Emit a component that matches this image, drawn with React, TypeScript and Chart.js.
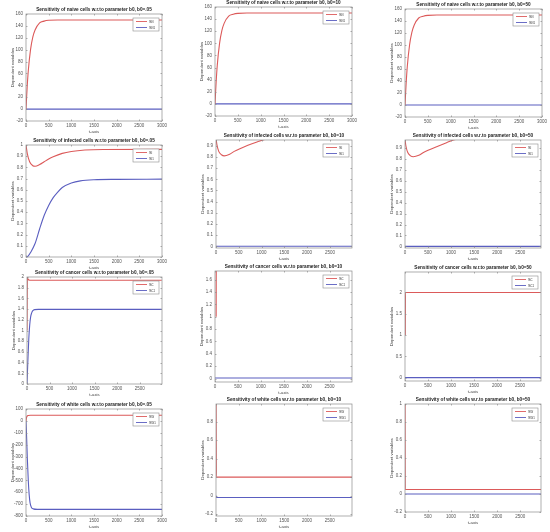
import React, { useEffect, useRef } from "react";
import { Chart, registerables } from "chart.js";
Chart.register(...registerables);

// ---------------- DATA ----------------
// Row 1: naive cells
const naive05T = [0, 25, 50, 100, 150, 200, 300, 400, 500, 700, 3000];
const naive05Red = [0, 36, 64, 100, 121, 133, 145, 148, 149.4, 150, 150];
const naive05BlueT = [0, 3000];
const naive05Blue = [0, 0];

const naive10T = [0, 25, 50, 100, 150, 200, 300, 400, 500, 700, 3000];
const naive10Red = [0, 36, 64, 100, 121, 133, 145, 148, 149.4, 150, 150];
const naive10BlueT = [0, 3000];
const naive10Blue = [0, 0];

const naive50T = [0, 25, 50, 100, 150, 200, 300, 400, 500, 700, 3000];
const naive50Red = [0, 36, 64, 100, 121, 133, 145, 148, 149.4, 150, 150];
const naive50BlueT = [0, 3000];
const naive50Blue = [0, 0];

// Row 2: infected cells
const inf05RedT = [0, 30, 80, 150, 200, 300, 400, 500, 600, 800, 1000, 1300, 1700, 3000];
const inf05Red = [1.0, 0.92, 0.85, 0.815, 0.81, 0.825, 0.85, 0.875, 0.895, 0.925, 0.942, 0.955, 0.96, 0.961];
const inf05BlueT = [0, 50, 100, 200, 300, 400, 500, 600, 700, 800, 1000, 1200, 1500, 2000, 3000];
const inf05Blue = [0, 0.01, 0.04, 0.12, 0.25, 0.37, 0.46, 0.53, 0.58, 0.62, 0.66, 0.68, 0.69, 0.693, 0.695];

const inf10RedT = [0, 20, 60, 120, 180, 300, 400, 500, 700, 900, 1050, 1300, 2990];
const inf10Red = [0.97, 0.91, 0.85, 0.82, 0.81, 0.825, 0.85, 0.87, 0.905, 0.935, 0.955, 0.975, 0.99];
const inf10BlueT = [0, 2990];
const inf10Blue = [0, 0];

const inf50RedT = [0, 20, 60, 120, 180, 300, 400, 500, 700, 900, 1050, 1300, 2950];
const inf50Red = [0.98, 0.92, 0.86, 0.83, 0.822, 0.835, 0.86, 0.88, 0.915, 0.95, 0.975, 0.99, 1.0];
const inf50BlueT = [0, 2950];
const inf50Blue = [0, 0];

// Row 3: cancer cells
const can05RedT = [0, 8, 20, 60, 2990];
const can05Red = [1.0, 2.0, 1.96, 1.94, 1.94];
const can05BlueT = [0, 20, 40, 60, 80, 100, 130, 170, 250, 2990];
const can05Blue = [0, 0.45, 0.85, 1.1, 1.25, 1.32, 1.37, 1.39, 1.395, 1.395];

const can10RedT = [25, 30, 2990];
const can10Red = [1.0, 2.2, 2.2];
const can10BlueT = [0, 2990];
const can10Blue = [0.01, 0.01];

const can50RedT = [5, 10, 2950];
const can50Red = [1.0, 2.0, 2.0];
const can50BlueT = [0, 2950];
const can50Blue = [0, 0];

// Row 4: white cells
const wht05RedT = [0, 10, 25, 50, 100, 3000];
const wht05Red = [0, 25, 40, 46, 48, 48];
const wht05BlueT = [0, 15, 30, 50, 70, 90, 120, 160, 250, 3000];
const wht05Blue = [0, -150, -320, -500, -620, -690, -728, -740, -744, -744];

const wht10RedT = [0, 8, 2990];
const wht10Red = [1.3, 0.2, 0.2];
const wht10BlueT = [0, 15, 2990];
const wht10Blue = [0, -0.02, -0.02];

const wht50RedT = [0, 5, 2950];
const wht50Red = [1.3, 0.05, 0.05];
const wht50BlueT = [0, 2950];
const wht50Blue = [0, 0];

// Tick values
const xTicks = [0, 500, 1000, 1500, 2000, 2500, 3000];
const yTicksNaive = [-20, 0, 20, 40, 60, 80, 100, 120, 140, 160];
const yTicksInf = [0, 0.1, 0.2, 0.3, 0.4, 0.5, 0.6, 0.7, 0.8, 0.9, 1];
const yTicksCan05 = [0, 0.2, 0.4, 0.6, 0.8, 1, 1.2, 1.4, 1.6, 1.8, 2];
const yTicksCan10 = [0, 0.2, 0.4, 0.6, 0.8, 1, 1.2, 1.4, 1.6];
const yTicksCan50 = [0, 0.5, 1, 1.5, 2];
const yTicksWht05 = [-800, -700, -600, -500, -400, -300, -200, -100, 0, 100];
const yTicksWht = [-0.2, 0, 0.2, 0.4, 0.6, 0.8, 1];

const titles = [
  "Sensitivity of naive cells w.r.to parameter b0, b0=.05",
  "Sensitivity of naive cells w.r.to parameter b0, b0=10",
  "Sensitivity of naive cells w.r.to parameter b0, b0=50",
  "Sensitivity of infected cells w.r.to parameter b0, b0=.05",
  "Sensitivity of infected cells w.r.to parameter b0, b0=10",
  "Sensitivity of infected cells w.r.to parameter b0, b0=50",
  "Sensitivity of cancer cells w.r.to parameter b0, b0=.05",
  "Sensitivity of cancer cells w.r.to parameter b0, b0=10",
  "Sensitivity of cancer cells w.r.to parameter b0, b0=50",
  "Sensitivity of white cells w.r.to parameter b0, b0=.05",
  "Sensitivity of white cells w.r.to parameter b0, b0=10",
  "Sensitivity of white cells w.r.to parameter b0, b0=50",
];
const naiveLabels = ["S_N", "S_N1"];
const infLabels = ["S_I", "S_I1"];
const canLabels = ["S_C", "S_C1"];
const whtLabels = ["S_W", "S_W1"];

const xLabel = "t-axis";
const yLabel = "Dependent variables";

// ---------------- LAYOUT / STYLE ----------------
const RED = "#dc5a5a";
const BLUE = "#5a5ec0";
const FONT = "'Liberation Sans', Arial, sans-serif";

const pts = (t: number[], y: number[]) => t.map((v, i) => ({ x: v, y: y[i] }));

type Spec = {
  rect: [number, number, number, number];
  title: string;
  labels: string[];
  red: { x: number; y: number }[];
  blue: { x: number; y: number }[];
  x: [number, number];
  y: [number, number];
  yTicks: number[];
};

const specs: Spec[] = [
  { rect: [26, 14, 162, 121], title: titles[0], labels: naiveLabels, red: pts(naive05T, naive05Red), blue: pts(naive05BlueT, naive05Blue), x: [0, 3000], y: [-20, 160], yTicks: yTicksNaive },
  { rect: [215, 7, 352, 116], title: titles[1], labels: naiveLabels, red: pts(naive10T, naive10Red), blue: pts(naive10BlueT, naive10Blue), x: [0, 3000], y: [-20, 160], yTicks: yTicksNaive },
  { rect: [405, 9, 542, 117], title: titles[2], labels: naiveLabels, red: pts(naive50T, naive50Red), blue: pts(naive50BlueT, naive50Blue), x: [0, 3000], y: [-20, 160], yTicks: yTicksNaive },
  { rect: [26, 145, 162, 257], title: titles[3], labels: infLabels, red: pts(inf05RedT, inf05Red), blue: pts(inf05BlueT, inf05Blue), x: [0, 3000], y: [0, 1], yTicks: yTicksInf },
  { rect: [216, 140, 352, 248], title: titles[4], labels: infLabels, red: pts(inf10RedT, inf10Red), blue: pts(inf10BlueT, inf10Blue), x: [0, 2985], y: [-0.015, 0.952], yTicks: yTicksInf },
  { rect: [405, 140, 541, 248], title: titles[5], labels: infLabels, red: pts(inf50RedT, inf50Red), blue: pts(inf50BlueT, inf50Blue), x: [0, 2950], y: [-0.015, 0.975], yTicks: yTicksInf },
  { rect: [27, 277, 162, 384], title: titles[6], labels: canLabels, red: pts(can05RedT, can05Red), blue: pts(can05BlueT, can05Blue), x: [0, 2995], y: [0, 2], yTicks: yTicksCan05 },
  { rect: [215, 271, 352, 382], title: titles[7], labels: canLabels, red: pts(can10RedT, can10Red), blue: pts(can10BlueT, can10Blue), x: [0, 2990], y: [-0.055, 1.74], yTicks: yTicksCan10 },
  { rect: [405, 272, 541, 381], title: titles[8], labels: canLabels, red: pts(can50RedT, can50Red), blue: pts(can50BlueT, can50Blue), x: [0, 2955], y: [-0.08, 2.48], yTicks: yTicksCan50 },
  { rect: [26, 409, 162, 516], title: titles[9], labels: whtLabels, red: pts(wht05RedT, wht05Red), blue: pts(wht05BlueT, wht05Blue), x: [0, 3000], y: [-800, 100], yTicks: yTicksWht05 },
  { rect: [216, 404, 352, 516], title: titles[10], labels: whtLabels, red: pts(wht10RedT, wht10Red), blue: pts(wht10BlueT, wht10Blue), x: [0, 2990], y: [-0.22, 0.99], yTicks: yTicksWht },
  { rect: [405, 404, 541, 512], title: titles[11], labels: whtLabels, red: pts(wht50RedT, wht50Red), blue: pts(wht50BlueT, wht50Blue), x: [0, 2950], y: [-0.2, 1], yTicks: yTicksWht },
];

const LEFT = 27;
const RIGHT = 8;
const TOP = 12;
const BOTTOM = 17;

const boxPlugin = {
  id: "matlabBox",
  afterDraw(chart: any) {
    const { ctx, chartArea: a, scales } = chart;
    ctx.save();
    ctx.strokeStyle = "#8c8c8c";
    ctx.lineWidth = 0.7;
    ctx.strokeRect(a.left, a.top, a.right - a.left, a.bottom - a.top);
    ctx.beginPath();
    const xs = scales.x;
    const ys = scales.y;
    xs.ticks.forEach((t: any) => {
      const p = Math.round(xs.getPixelForValue(t.value)) + 0.5;
      ctx.moveTo(p, a.bottom);
      ctx.lineTo(p, a.bottom - 1.5);
      ctx.moveTo(p, a.top);
      ctx.lineTo(p, a.top + 1.5);
    });
    ys.ticks.forEach((t: any) => {
      const p = Math.round(ys.getPixelForValue(t.value)) + 0.5;
      ctx.moveTo(a.left, p);
      ctx.lineTo(a.left + 1.5, p);
      ctx.moveTo(a.right, p);
      ctx.lineTo(a.right - 1.5, p);
    });
    ctx.stroke();

    // legend box in the top-right corner of the plot area
    const w = 26;
    const h = 13;
    const bx = a.right - 3 - w;
    const by = a.top + 4;
    ctx.fillStyle = "#ffffff";
    ctx.fillRect(bx, by, w, h);
    ctx.strokeStyle = "#8c8c8c";
    ctx.lineWidth = 0.6;
    ctx.strokeRect(bx, by, w, h);
    chart.data.datasets.forEach((ds: any, i: number) => {
      const cy = by + 3.5 + i * 6;
      ctx.strokeStyle = ds.borderColor;
      ctx.lineWidth = 0.9;
      ctx.beginPath();
      ctx.moveTo(bx + 3, cy);
      ctx.lineTo(bx + 14, cy);
      ctx.stroke();
      const [main, sub] = String(ds.label).split("_");
      ctx.fillStyle = "#333";
      ctx.textBaseline = "middle";
      ctx.font = `3.8px ${FONT}`;
      ctx.fillText(main, bx + 16, cy);
      const mw = ctx.measureText(main).width;
      if (sub) {
        ctx.font = `2.8px ${FONT}`;
        ctx.fillText(sub, bx + 16 + mw, cy + 1);
      }
    });
    ctx.restore();
  },
};

const fmt = (v: any) => String(+Number(v).toFixed(3));

function Panel({ spec }: { spec: Spec }) {
  const ref = useRef<HTMLCanvasElement | null>(null);
  const [L, T, R, B] = spec.rect;
  const width = R - L + LEFT + RIGHT;
  const height = B - T + TOP + BOTTOM;
  useEffect(() => {
    if (!ref.current) return;
    const chart = new Chart(ref.current, {
      type: "line",
      data: {
        datasets: [
          { label: spec.labels[0], data: spec.red, borderColor: RED, borderWidth: 1.1, pointRadius: 0, cubicInterpolationMode: "monotone", fill: false },
          { label: spec.labels[1], data: spec.blue, borderColor: BLUE, borderWidth: 1.1, pointRadius: 0, cubicInterpolationMode: "monotone", fill: false },
        ],
      },
      options: {
        responsive: false,
        animation: false,
        devicePixelRatio: 1,
        layout: { padding: { left: 0, right: RIGHT, top: 0, bottom: 0 } },
        plugins: {
          legend: { display: false },
          tooltip: { enabled: false },
          title: {
            display: true,
            text: spec.title,
            fullSize: false,
            color: "#222",
            font: { family: FONT, size: 4.7, weight: "bold", lineHeight: "6px" as any },
            padding: { top: 5, bottom: 1 },
          },
        },
        scales: {
          x: {
            type: "linear",
            min: spec.x[0],
            max: spec.x[1],
            grid: { display: false, drawTicks: false },
            border: { display: false },
            afterBuildTicks: (s: any) => {
              s.ticks = xTicks.filter((v) => v >= s.min && v <= s.max).map((v) => ({ value: v }));
            },
            ticks: {
              autoSkip: false,
              maxRotation: 0,
              padding: 2.5,
              color: "#555",
              font: { family: FONT, size: 4.5 },
              callback: fmt,
            },
            title: {
              display: true,
              text: xLabel,
              color: "#444",
              font: { family: FONT, size: 4.3, lineHeight: "6px" as any },
              padding: { top: 0, bottom: 3 },
            },
            afterFit: (s: any) => {
              s.height = BOTTOM;
            },
          },
          y: {
            type: "linear",
            min: spec.y[0],
            max: spec.y[1],
            grid: { display: false, drawTicks: false },
            border: { display: false },
            afterBuildTicks: (s: any) => {
              s.ticks = spec.yTicks.filter((v) => v >= s.min - 1e-9 && v <= s.max + 1e-9).map((v) => ({ value: v }));
            },
            ticks: {
              autoSkip: false,
              padding: 3,
              color: "#555",
              font: { family: FONT, size: 4.5 },
              callback: fmt,
            },
            title: {
              display: true,
              text: yLabel,
              color: "#444",
              font: { family: FONT, size: 4.3, lineHeight: "6px" as any },
              padding: { top: 11, bottom: 0 },
            },
            afterFit: (s: any) => {
              s.width = LEFT;
            },
          },
        },
      },
      plugins: [boxPlugin],
    } as any);
    return () => chart.destroy();
  }, []);
  return (
    <canvas
      ref={ref}
      width={width}
      height={height}
      style={{ position: "absolute", left: L - LEFT, top: T - TOP, width, height }}
    />
  );
}

export default function App() {
  return (
    <div style={{ position: "absolute", left: 0, top: 0, width: 550, height: 532, background: "#fff" }}>
      {specs.map((s, i) => (
        <Panel key={i} spec={s} />
      ))}
    </div>
  );
}
